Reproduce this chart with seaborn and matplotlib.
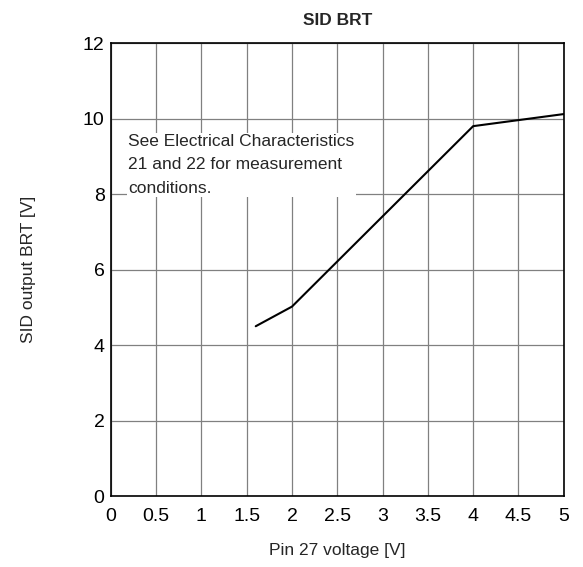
import matplotlib
matplotlib.use("Agg")
import matplotlib.pyplot as plt
import seaborn as sns
import pandas as pd

# values
pin_voltage = [1.6, 2.0, 4.0, 5.0]
sid_output = [4.5, 5.02, 9.8, 10.12]

x_ticks = [0, 0.5, 1, 1.5, 2, 2.5, 3, 3.5, 4, 4.5, 5]
x_labels = ["0", "0.5", "1", "1.5", "2", "2.5", "3", "3.5", "4", "4.5", "5"]
y_ticks = [0, 2, 4, 6, 8, 10, 12]

sns.set_style("white")
plt.rcParams['font.family'] = ['Liberation Sans', 'DejaVu Sans']

df = pd.DataFrame({"pin": pin_voltage, "out": sid_output})

fig = plt.figure(figsize=(5.83, 5.67), dpi=100)
ax = fig.add_axes([0.190, 0.125, 0.777, 0.799])

sns.lineplot(data=df, x="pin", y="out", ax=ax, color="black", linewidth=1.5,
             sort=False, estimator=None)

ax.set_xlim(0, 5)
ax.set_ylim(0, 12)
ax.set_xticks(x_ticks)
ax.set_xticklabels(x_labels)
ax.set_yticks(y_ticks)
ax.tick_params(axis="both", length=0, labelsize=14, colors="black")
ax.tick_params(axis="x", pad=8.5)
ax.tick_params(axis="y", pad=4.5)
ax.grid(True, color="#808080", linewidth=0.9)
ax.set_axisbelow(True)
for s in ax.spines.values():
    s.set_color("black")
    s.set_linewidth(1.2)
    s.set_visible(True)

ax.set_xlabel("Pin 27 voltage [V]", fontsize=12.5, labelpad=13)
ax.set_ylabel("SID output BRT [V]", fontsize=12.5, labelpad=34)
ax.set_title("SID BRT", fontsize=12.5, fontweight="bold", pad=13)

# note box, white background hides the grid behind it
ax.text(0.19, 9.59, "See Electrical Characteristics\n21 and 22 for measurement\nconditions.",
        fontsize=12.5, va="top", ha="left", linespacing=1.7,
        bbox=dict(facecolor="white", edgecolor="none", pad=1))

fig.savefig("out.png", dpi=100)
